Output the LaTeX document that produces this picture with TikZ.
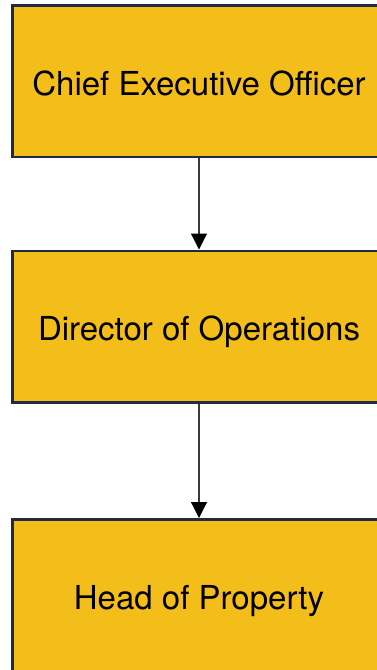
\documentclass[tikz,border=0pt]{standalone}
\usepackage{fontspec}
\setmainfont{TeX Gyre Heros}
\usetikzlibrary{arrows.meta,positioning}
\definecolor{roleyellow}{HTML}{F4BE1A}
\definecolor{roleborder}{HTML}{1E2B47}
\definecolor{linkgrey}{HTML}{3A3A3A}
\tikzset{
    role/.style={
           rectangle,
           draw=roleborder, line width=2.5pt,
           fill=roleyellow,
           minimum width=373pt,
           minimum height=151.5pt,
           inner sep=0pt,
           text height=28.8pt,
           text depth=0pt,
           text centered,
           font=\fontsize{33}{39}\selectfont
           },
}
\begin{document}
\begin{tikzpicture}[x=1pt,y=1pt,
    -{Triangle[width=16pt,length=16pt,color=black]},
    draw=linkgrey,line width=1.2pt]

             \useasboundingbox (0,0) rectangle (376,-670);

             \node[role] (CEO) at (199,-81)
             {Chief Executive Officer};

             \node[role,
              below of=CEO,
              node distance=245.5pt,
              anchor=center] (DIR)
             {Director of Operations};

             \node[role,
              below of=DIR,
              node distance=268.5pt,
              anchor=center] (HEAD)
             {Head of Property};

             \path
             (CEO)  edge (DIR)
             (DIR)  edge (HEAD)
             ;

\end{tikzpicture}
\end{document}
